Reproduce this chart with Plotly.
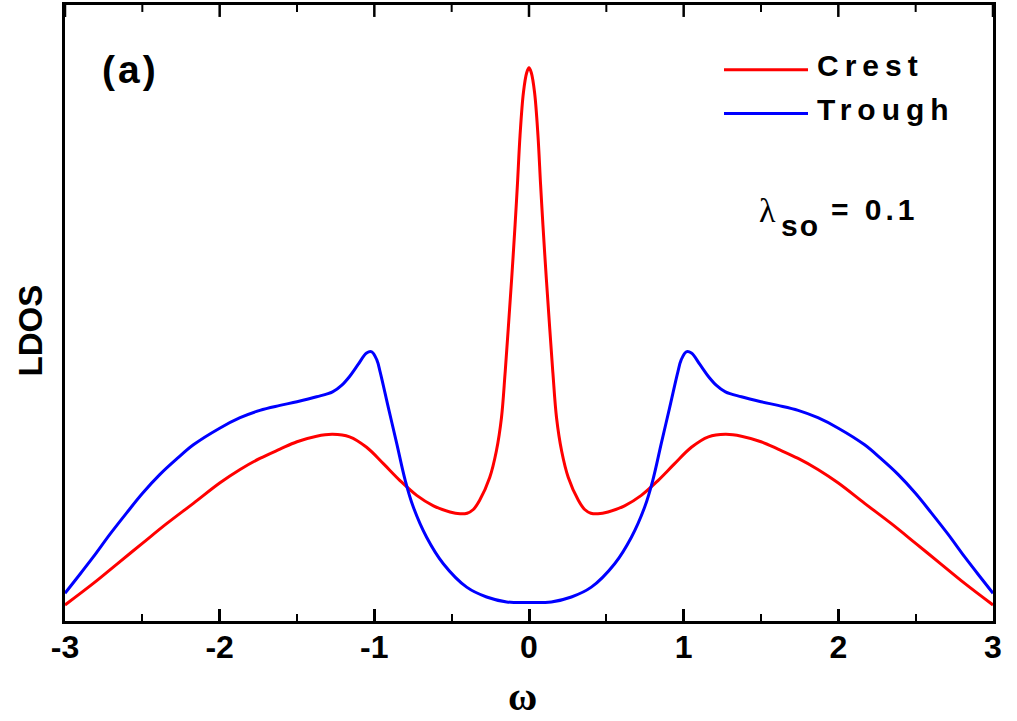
import plotly.graph_objects as go

# ---- data (LDOS in arbitrary units) ----
crest_w = [-3.0, -2.817, -2.666, -2.5, -2.343, -2.17, -2.0, -1.868, -1.74, -1.61, -1.5,
           -1.373, -1.27, -1.16, -1.05, -0.94, -0.834, -0.726, -0.618, -0.511, -0.446, -0.40,
           -0.36, -0.319, -0.254, -0.211, -0.178, -0.155, -0.134, -0.112, -0.09, -0.075,
           -0.058, -0.036, -0.015, 0.0,
           0.015, 0.036, 0.058, 0.075, 0.09, 0.112, 0.134, 0.155, 0.178, 0.211, 0.254,
           0.319, 0.36, 0.40, 0.446, 0.511, 0.618, 0.726, 0.834, 0.94, 1.05, 1.16, 1.27, 1.373,
           1.5, 1.61, 1.74, 1.868, 2.0, 2.17, 2.343, 2.5, 2.666, 2.817, 3.0]
crest_ldos = [2.6, 6.1, 9.2, 12.6, 15.8, 19.1, 22.4, 24.6, 26.4, 27.9, 29.1,
              30.0, 30.3, 29.9, 28.2, 25.5, 22.8, 20.4, 18.7, 17.7, 17.4, 17.5,
              18.1, 19.6, 23.3, 27.6, 33.0, 40.1, 47.5, 55.6, 64.3, 70.8,
              78.8, 85.8, 89.0, 89.8,
              89.0, 85.8, 78.8, 70.8, 64.3, 55.6, 47.5, 40.1, 33.0, 27.6, 23.3,
              19.6, 18.1, 17.5, 17.4, 17.7, 18.7, 20.4, 22.8, 25.5, 28.2, 29.9, 30.3, 30.0,
              29.1, 27.9, 26.4, 24.6, 22.4, 19.1, 15.8, 12.6, 9.2, 6.1, 2.6]

trough_w = [-3.0, -2.925, -2.817, -2.709, -2.6, -2.5, -2.386, -2.278, -2.17, -2.0, -1.868, -1.74,
            -1.61, -1.5, -1.373, -1.27, -1.21, -1.16, -1.106, -1.05, -1.017, -0.984, -0.963,
            -0.909, -0.855, -0.80, -0.748, -0.662, -0.554, -0.403, -0.274, -0.144, 0.0,
            0.144, 0.274, 0.403, 0.554, 0.662, 0.748, 0.80, 0.855, 0.909, 0.963, 0.984, 1.017,
            1.05, 1.106, 1.16, 1.21, 1.27, 1.373, 1.5, 1.61, 1.74, 1.868, 2.0, 2.17, 2.278,
            2.386, 2.5, 2.6, 2.709, 2.817, 2.925, 3.0]
trough_ldos = [4.5, 6.9, 10.4, 14.1, 17.6, 20.7, 23.8, 26.3, 28.6, 31.3, 33.0, 34.2,
               35.0, 35.6, 36.4, 37.2, 38.3, 39.7, 41.6, 43.5, 43.7, 42.4, 40.5,
               34.6, 28.8, 22.8, 18.5, 13.6, 9.3, 5.5, 3.9, 3.1, 3.0,
               3.1, 3.9, 5.5, 9.3, 13.6, 18.5, 22.8, 28.8, 34.6, 40.5, 42.4, 43.7,
               43.5, 41.6, 39.7, 38.3, 37.2, 36.4, 35.6, 35.0, 34.2, 33.0, 31.3, 28.6, 26.3,
               23.8, 20.7, 17.6, 14.1, 10.4, 6.9, 4.5]

x_ticks = [-3, -2, -1, 0, 1, 2, 3]
x_ticklabels = ["-3", "-2", "-1", "0", "1", "2", "3"]
x_minor_ticks = [-2.5, -1.5, -0.5, 0.5, 1.5, 2.5]

FONT = "Liberation Sans, Arial, sans-serif"
SERIF = "Liberation Serif, Times New Roman, serif"

W, H = 1017, 721
ML, MR, MT, MB = 65, 24, 2, 100
PW, PH = W - ML - MR, H - MT - MB
Y_RANGE = [0, 100]
Y_PER_PX = (Y_RANGE[1] - Y_RANGE[0]) / PH


def px(x):
    return (x - ML) / PW


def py(y):
    return (H - MB - y) / PH


fig = go.Figure()
fig.add_trace(go.Scatter(x=crest_w, y=crest_ldos, mode="lines", name="Crest",
                         line=dict(color="#FF0000", width=3, shape="spline", smoothing=1.0),
                         showlegend=False))
fig.add_trace(go.Scatter(x=trough_w, y=trough_ldos, mode="lines", name="Trough",
                         line=dict(color="#0000FF", width=3, shape="spline", smoothing=1.0),
                         showlegend=False))

fig.update_layout(
    width=W, height=H,
    margin=dict(l=ML, r=MR, t=MT, b=MB),
    paper_bgcolor="white", plot_bgcolor="white",
    font=dict(family=FONT, color="black"),
    xaxis=dict(range=[-3, 3], tickmode="array", tickvals=x_ticks, ticktext=x_ticklabels,
               ticks="inside", ticklen=12, tickwidth=2.5, tickcolor="black",
               minor=dict(ticks="inside", ticklen=7, tickwidth=2, tickcolor="black",
                          tickmode="array", tickvals=x_minor_ticks),
               showgrid=False, zeroline=False,
               showline=True, linewidth=3, linecolor="black", mirror=True,
               tickfont=dict(size=32, family=FONT, weight="bold"),
               ticklabelstandoff=-4),
    yaxis=dict(range=Y_RANGE, showticklabels=False, ticks="",
               showline=True, linewidth=3, linecolor="black", mirror=True,
               showgrid=False, zeroline=False),
)

# tick marks along the top frame edge (same positions as the bottom axis ticks)
for v in x_ticks:
    fig.add_shape(type="line", xref="x", yref="y", x0=v, x1=v,
                  y0=Y_RANGE[1], y1=Y_RANGE[1] - 12 * Y_PER_PX,
                  line=dict(color="black", width=2.5), layer="above")
for v in x_minor_ticks:
    fig.add_shape(type="line", xref="x", yref="y", x0=v, x1=v,
                  y0=Y_RANGE[1], y1=Y_RANGE[1] - 7 * Y_PER_PX,
                  line=dict(color="black", width=2), layer="above")

# axis titles
fig.add_annotation(xref="paper", yref="paper", x=px(522), y=py(697), text="ω", showarrow=False,
                   font=dict(size=40, family=SERIF, weight="bold"), xanchor="center", yanchor="middle")
fig.add_annotation(xref="paper", yref="paper", x=px(30), y=py(329), text="LDOS", showarrow=False,
                   textangle=-90, font=dict(size=33, family=FONT, weight="bold"),
                   xanchor="center", yanchor="middle")

# panel label
fig.add_annotation(xref="paper", yref="paper", x=px(130), y=py(67), showarrow=False,
                   text='<span style="letter-spacing:3px">(a)</span>',
                   font=dict(size=39, family=FONT, weight="bold"), xanchor="center", yanchor="middle")

# legend drawn manually (long line samples, letter-spaced labels)
legend_items = [("Crest", "#FF0000", 67), ("Trough", "#0000FF", 111)]
for name, color, ypix in legend_items:
    fig.add_shape(type="line", xref="paper", yref="paper", x0=px(724), x1=px(808),
                  y0=py(ypix), y1=py(ypix), line=dict(color=color, width=3))
    fig.add_annotation(xref="paper", yref="paper", x=px(815), y=py(ypix - 4), showarrow=False,
                       text='<span style="letter-spacing:6px">' + name + '</span>',
                       font=dict(size=30, family=FONT, weight="bold"), xanchor="left", yanchor="middle")

# lambda_so = 0.1
fig.add_annotation(xref="paper", yref="paper", x=px(767), y=py(209), text="λ", showarrow=False,
                   font=dict(size=34, family=SERIF), xanchor="center", yanchor="middle")
fig.add_annotation(xref="paper", yref="paper", x=px(779), y=py(224), showarrow=False,
                   text='<span style="letter-spacing:2px">so</span>',
                   font=dict(size=30, family=FONT, weight="bold"), xanchor="left", yanchor="middle")
fig.add_annotation(xref="paper", yref="paper", x=px(829), y=py(207), showarrow=False,
                   text='<span style="letter-spacing:4px">= 0.1</span>',
                   font=dict(size=30, family=FONT, weight="bold"), xanchor="left", yanchor="middle")

fig.write_html("out.html")
